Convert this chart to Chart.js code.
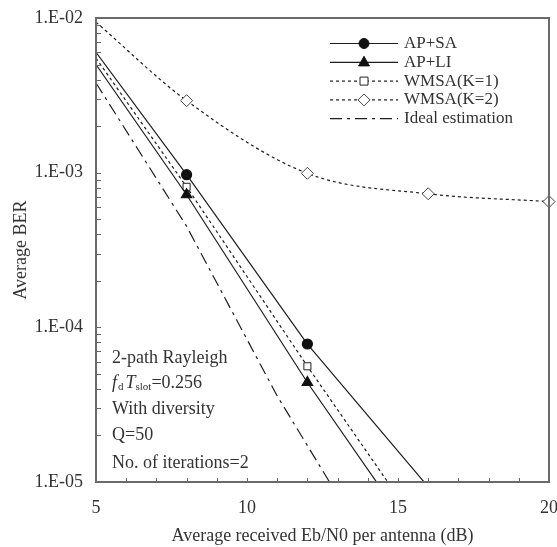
<!DOCTYPE html>
<html>
<head>
<meta charset="utf-8">
<script src="https://cdn.jsdelivr.net/npm/chart.js@4.4.1/dist/chart.umd.min.js"></script>
<style>
  html, body { margin: 0; padding: 0; background: #fff; }
  #wrap { width: 557px; height: 547px; }
</style>
</head>
<body>
<div id="wrap"><canvas id="berChart"></canvas></div>
<script>
// Eb/N0 (dB) points for each curve
var snrAPSA = [5, 8, 12, 16];
var berAPSA = [6.0e-3, 9.7e-4, 7.8e-5, 9.3e-6];

var snrAPLI = [5, 8, 12, 16];
var berAPLI = [5.0e-3, 7.2e-4, 4.4e-5, 3.3e-6];

var snrK1 = [5, 8, 12, 16];
var berK1 = [5.5e-3, 8.1e-4, 5.6e-5, 4.2e-6];

var snrK2 = [5, 8, 12, 16, 20];
var berK2 = [9.4e-3, 2.92e-3, 9.9e-4, 7.3e-4, 6.5e-4];

var snrIdeal = [5, 8, 11, 13];
var berIdeal = [3.8e-3, 4.5e-4, 3.6e-5, 8.2e-6];

var xTicks = [5, 10, 15, 20];
var yTickLabels = ['1.E-05', '1.E-04', '1.E-03', '1.E-02'];

var annotations = ['2-path Rayleigh', 'fdTslot=0.256', 'With diversity', 'Q=50', 'No. of iterations=2'];

var FONT = '"Liberation Serif", "Times New Roman", serif';
var TXT = '#333';
var LN = '#1e1e1e';

function pts(xs, ys) {
    return xs.map(function(x, i){ return {x: x, y: ys[i]}; });
}

// markers only at the measured points (8 and 12 dB ...)
function radii(xs, shown, r) {
    return xs.map(function(x){ return shown.indexOf(x) >= 0 ? r : 0; });
}

var datasets = [
    {
        label: 'AP+SA',
        data: pts(snrAPSA, berAPSA),
        borderColor: LN, borderWidth: 1.2,
        pointStyle: 'circle', pointRadius: radii(snrAPSA, [8, 12], 5),
        pointBackgroundColor: '#111', pointBorderColor: '#111'
    },
    {
        label: 'AP+LI',
        data: pts(snrAPLI, berAPLI),
        borderColor: LN, borderWidth: 1.2,
        pointStyle: 'triangle', pointRadius: radii(snrAPLI, [8, 12], 6),
        pointBackgroundColor: '#111', pointBorderColor: '#111'
    },
    {
        label: 'WMSA(K=1)',
        data: pts(snrK1, berK1),
        borderColor: LN, borderWidth: 1.2, borderDash: [3, 3],
        pointStyle: 'rect', pointRadius: radii(snrK1, [8, 12], 5),
        pointBackgroundColor: '#fff', pointBorderColor: '#222', pointBorderWidth: 1
    },
    {
        label: 'WMSA(K=2)',
        data: pts(snrK2, berK2),
        borderColor: LN, borderWidth: 1.2, borderDash: [3, 3],
        cubicInterpolationMode: 'monotone',
        pointStyle: 'rectRot', pointRadius: radii(snrK2, [8, 12, 16, 20], 6),
        pointBackgroundColor: '#fff', pointBorderColor: '#444', pointBorderWidth: 1,
        clip: 8
    },
    {
        label: 'Ideal estimation',
        data: pts(snrIdeal, berIdeal),
        borderColor: LN, borderWidth: 1.2, borderDash: [12, 5, 3, 5],
        pointRadius: 0
    }
];

function drawMarker(ctx, ds, x, y) {
    var r = ds.pointStyle === 'rectRot' ? 6 : (ds.pointStyle === 'triangle' ? 6 : 5);
    ctx.save();
    ctx.setLineDash([]);
    ctx.fillStyle = ds.pointBackgroundColor;
    ctx.strokeStyle = ds.pointBorderColor;
    ctx.lineWidth = 1;
    ctx.beginPath();
    if (ds.pointStyle === 'circle') {
        ctx.arc(x, y, r, 0, Math.PI * 2);
    } else if (ds.pointStyle === 'triangle') {
        ctx.moveTo(x, y - r);
        ctx.lineTo(x + r * 0.9, y + r * 0.6);
        ctx.lineTo(x - r * 0.9, y + r * 0.6);
        ctx.closePath();
    } else if (ds.pointStyle === 'rect') {
        ctx.rect(x - r * 0.8, y - r * 0.8, r * 1.6, r * 1.6);
    } else if (ds.pointStyle === 'rectRot') {
        ctx.moveTo(x, y - r); ctx.lineTo(x + r, y); ctx.lineTo(x, y + r); ctx.lineTo(x - r, y);
        ctx.closePath();
    }
    ctx.fill();
    ctx.stroke();
    ctx.restore();
}

// frame, inner ticks, legend and the text block
var decorPlugin = {
    id: 'decor',
    afterDraw: function(chart) {
        var ctx = chart.ctx;
        var a = chart.chartArea;
        var xs = chart.scales.x, ys = chart.scales.y;
        ctx.save();

        // inner tick marks
        ctx.strokeStyle = '#666';
        ctx.lineWidth = 1;
        for (var v = 5; v <= 20; v++) {
            var px = Math.round(xs.getPixelForValue(v)) + 0.5;
            ctx.beginPath(); ctx.moveTo(px, a.bottom); ctx.lineTo(px, a.bottom - 4); ctx.stroke();
        }
        for (var d = -5; d <= -3; d++) {
            for (var m = 1; m <= 9; m++) {
                var py = Math.round(ys.getPixelForValue(m * Math.pow(10, d))) + 0.5;
                ctx.beginPath(); ctx.moveTo(a.left, py); ctx.lineTo(a.left + 5, py); ctx.stroke();
            }
        }

        // frame
        ctx.strokeStyle = '#6a6a6a';
        ctx.lineWidth = 2;
        ctx.strokeRect(a.left, a.top, a.right - a.left, a.bottom - a.top);

        // legend
        var lx0 = a.left + 234, lx1 = a.left + 302, tx = a.left + 308;
        ctx.font = '17px ' + FONT;
        ctx.textBaseline = 'middle';
        ctx.textAlign = 'left';
        chart.data.datasets.forEach(function(ds, i) {
            var yy = a.top + 25.5 + i * 18.8;
            ctx.strokeStyle = LN;
            ctx.lineWidth = 1.2;
            ctx.setLineDash(ds.borderDash || []);
            ctx.beginPath(); ctx.moveTo(lx0, yy); ctx.lineTo(lx1, yy); ctx.stroke();
            ctx.setLineDash([]);
            if (ds.pointStyle && i < 4) drawMarker(ctx, ds, (lx0 + lx1) / 2, yy);
            ctx.fillStyle = TXT;
            ctx.fillText(ds.label, tx, yy);
        });

        // annotation text
        var ax = a.left + 16;
        var ay = [358, 383, 409, 435, 463];
        ctx.fillStyle = TXT;
        annotations.forEach(function(t, i) {
            if (i === 1) {
                var x = ax;
                ctx.font = 'italic 18px ' + FONT;
                ctx.fillText('f', x, ay[i]); x += ctx.measureText('f').width + 1;
                ctx.font = '11px ' + FONT;
                ctx.fillText('d', x, ay[i] + 4); x += ctx.measureText('d').width + 2;
                ctx.font = 'italic 18px ' + FONT;
                ctx.fillText('T', x, ay[i]); x += ctx.measureText('T').width;
                ctx.font = '11px ' + FONT;
                ctx.fillText('slot', x, ay[i] + 4); x += ctx.measureText('slot').width;
                ctx.font = '18px ' + FONT;
                ctx.fillText('=0.256', x, ay[i]);
            } else {
                ctx.font = '18px ' + FONT;
                ctx.fillText(t, ax, ay[i]);
            }
        });
        ctx.restore();
    }
};

var ctx = document.getElementById('berChart').getContext('2d');
window.myChart = new Chart(ctx, {
    type: 'line',
    data: { datasets: datasets },
    options: {
        responsive: true,
        maintainAspectRatio: false,
        animation: false,
        layout: { padding: { top: 18, right: 8, left: 0, bottom: 0 } },
        plugins: {
            legend: { display: false },
            tooltip: { enabled: false }
        },
        scales: {
            x: {
                type: 'linear',
                min: 5, max: 20,
                grid: { display: false, drawTicks: false },
                border: { display: false },
                ticks: {
                    stepSize: 1, autoSkip: false, maxRotation: 0, padding: 15,
                    color: TXT, font: { family: FONT, size: 18 },
                    callback: function(v) { return xTicks.indexOf(v) >= 0 ? String(v) : ''; }
                },
                title: {
                    display: true, text: 'Average received Eb/N0 per antenna (dB)',
                    color: TXT, font: { family: FONT, size: 18 }, padding: { top: 2, bottom: 0 }
                },
                afterFit: function(s) {
                    s.height = 65;
                    s.paddingLeft = 0; s.paddingRight = 0;
                }
            },
            y: {
                type: 'logarithmic',
                min: 1e-5, max: 1e-2,
                grid: { display: false, drawTicks: false },
                border: { display: false },
                ticks: {
                    autoSkip: false, padding: 13,
                    color: TXT, font: { family: FONT, size: 18 },
                    callback: function(v) {
                        var e = Math.log10(v);
                        if (Math.abs(e - Math.round(e)) > 1e-6) return '';
                        return yTickLabels[Math.round(e) + 5];
                    }
                },
                title: {
                    display: true, text: 'Average BER',
                    color: TXT, font: { family: FONT, size: 18 }, padding: { top: 10, bottom: 0 }
                },
                afterFit: function(s) {
                    s.width = 96;
                    s.paddingTop = 0; s.paddingBottom = 0;
                }
            }
        }
    },
    plugins: [decorPlugin]
});
</script>
</body>
</html>
